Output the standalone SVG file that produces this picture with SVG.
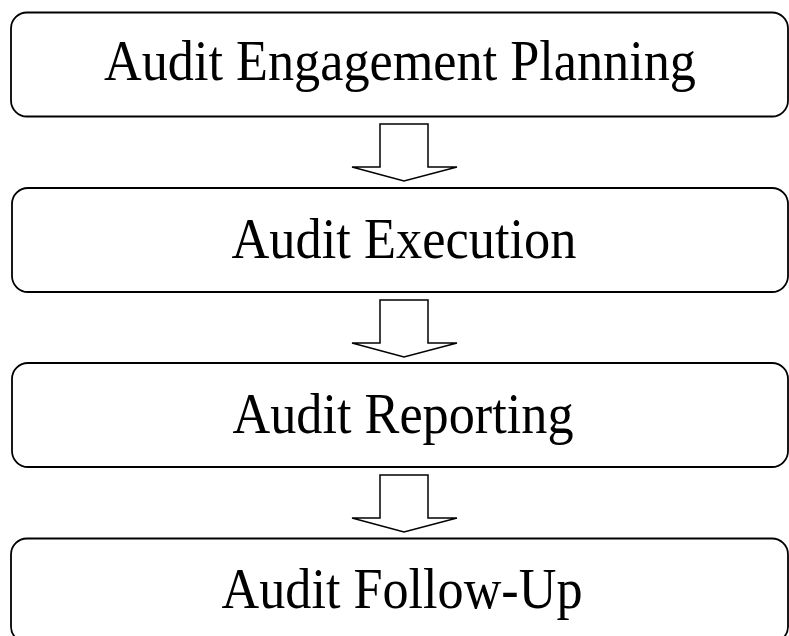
<svg xmlns="http://www.w3.org/2000/svg" width="789" height="636" viewBox="0 0 789 636">
<style>
.box{fill:#fff;stroke:#000;stroke-width:1.8}
.lbl{font-family:"Liberation Serif","Times New Roman",serif;font-size:56px;fill:#000;text-anchor:middle}
.arr{fill:#fff;stroke:#000;stroke-width:1.5;stroke-linejoin:miter}
</style>
<rect width="789" height="636" fill="#fff"/>
<g id="connectors">
<path class="arr" d="M380,124 H428 V167 H457 L404,181 L352,167 H380 Z"/>
<path class="arr" d="M380,300 H428 V343 H457 L404,357 L352,343 H380 Z"/>
<path class="arr" d="M380,475 H428 V518 H457 L404,532 L352,518 H380 Z"/>
</g>
<g id="node1">
<rect class="box" x="11" y="12.5" width="777" height="104" rx="16"/>
<text class="lbl" x="400" y="80" textLength="592" lengthAdjust="spacingAndGlyphs">Audit Engagement Planning</text>
</g>
<g id="node2">
<rect class="box" x="12" y="188" width="776" height="104" rx="16"/>
<text class="lbl" x="404" y="258" textLength="345" lengthAdjust="spacingAndGlyphs">Audit Execution</text>
</g>
<g id="node3">
<rect class="box" x="12" y="363" width="776" height="104" rx="16"/>
<text class="lbl" x="403" y="433" textLength="341" lengthAdjust="spacingAndGlyphs">Audit Reporting</text>
</g>
<g id="node4">
<rect class="box" x="11" y="538.5" width="777" height="104" rx="16"/>
<text class="lbl" x="402" y="608" textLength="361" lengthAdjust="spacingAndGlyphs">Audit Follow-Up</text>
</g>
</svg>
